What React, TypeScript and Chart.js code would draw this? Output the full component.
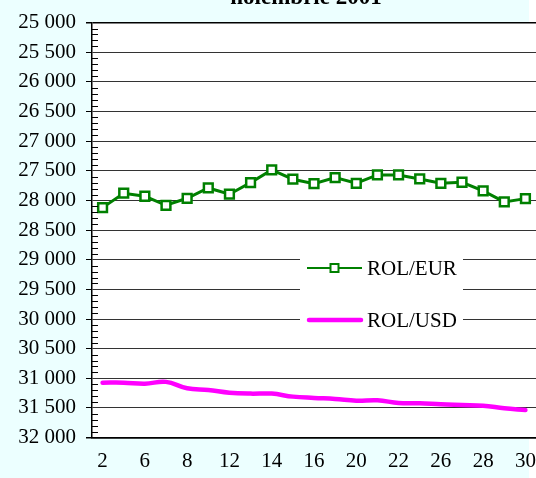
import { useEffect, useRef } from 'react';
import { Chart, registerables } from 'chart.js';

Chart.register(...registerables);

const titleText = 'noiembrie 2001';

const days = ['2', '5', '6', '7', '8', '9', '12', '13', '14', '15', '16', '19', '20', '21', '22', '23', '26', '27', '28', '29', '30'];

const rolEur = [28121, 27878, 27929, 28081, 27963, 27789, 27895, 27699, 27485, 27642, 27716, 27615, 27710, 27569, 27569, 27637, 27710, 27693, 27840, 28025, 27969];

const rolUsd = [31073, 31073, 31090, 31060, 31168, 31196, 31242, 31258, 31258, 31309, 31331, 31348, 31377, 31370, 31416, 31422, 31439, 31450, 31461, 31505, 31534];

const yMin = 25000;
const yMax = 32000;
const yStep = 500;
const yMinorStep = 100;

const fmt = (v: number) => String(v).replace(/\B(?=(\d{3})+(?!\d))/g, ' ');

const FONT = "'Liberation Serif', 'Times New Roman', serif";

const bgPlugin = {
  id: 'bg',
  beforeDraw(chart: any) {
    const { ctx, width, height, chartArea } = chart;
    ctx.save();
    ctx.fillStyle = '#ffffff';
    ctx.fillRect(0, 0, width, height);
    ctx.fillStyle = 'rgb(236,255,255)';
    ctx.fillRect(0, 0, 529, height);
    ctx.fillStyle = '#ffffff';
    ctx.fillRect(chartArea.left, chartArea.top, chartArea.right - chartArea.left, chartArea.bottom - chartArea.top);
    ctx.restore();
  },
};

const titlePlugin = {
  id: 'cutTitle',
  afterDraw(chart: any) {
    const { ctx } = chart;
    ctx.save();
    ctx.fillStyle = '#000';
    ctx.font = `bold 23px ${FONT}`;
    ctx.textAlign = 'center';
    ctx.textBaseline = 'alphabetic';
    ctx.fillText(titleText, 306, 4);
    ctx.restore();
  },
};

const minorTickPlugin = {
  id: 'minorTicks',
  afterDraw(chart: any) {
    const { ctx, chartArea } = chart;
    const ys = chart.scales.y;
    ctx.save();
    ctx.strokeStyle = '#000';
    ctx.lineWidth = 1;
    ctx.beginPath();
    for (let v = yMin; v <= yMax; v += yMinorStep) {
      if (v % yStep === 0) continue;
      const y = Math.round(ys.getPixelForValue(v)) + 0.5;
      ctx.moveTo(chartArea.left, y);
      ctx.lineTo(chartArea.left + 6, y);
    }
    ctx.stroke();
    ctx.restore();
  },
};

const legendPlugin = {
  id: 'floatLegend',
  afterDraw(chart: any) {
    const { ctx } = chart;
    ctx.save();
    ctx.fillStyle = '#ffffff';
    ctx.fillRect(300, 238, 163, 104);
    const rows = [268, 320];
    chart.data.datasets.forEach((ds: any, i: number) => {
      const y = rows[i];
      const hasMarker = ds.pointRadius > 0;
      ctx.strokeStyle = ds.borderColor;
      ctx.lineWidth = hasMarker ? 2 : 4.5;
      ctx.lineCap = hasMarker ? 'butt' : 'round';
      ctx.beginPath();
      ctx.moveTo(hasMarker ? 307 : 309, y);
      ctx.lineTo(hasMarker ? 362 : 361, y);
      ctx.stroke();
      if (hasMarker) {
        ctx.fillStyle = ds.pointBackgroundColor;
        ctx.lineWidth = 2;
        ctx.fillRect(330.5, y - 4, 8, 8);
        ctx.strokeRect(330.5, y - 4, 8, 8);
      }
      ctx.fillStyle = '#000';
      ctx.font = `21px ${FONT}`;
      ctx.textAlign = 'left';
      ctx.textBaseline = 'middle';
      ctx.fillText(ds.label, 367, y + 1);
    });
    ctx.restore();
  },
};

export default function App() {
  const ref = useRef<HTMLCanvasElement>(null);

  useEffect(() => {
    if (!ref.current) return;
    Chart.defaults.font.family = FONT;
    const chart = new Chart(ref.current, {
      type: 'line',
      data: {
        labels: days,
        datasets: [
          {
            label: 'ROL/EUR',
            data: rolEur,
            borderColor: 'rgb(0,128,0)',
            borderWidth: 3,
            pointStyle: 'rect',
            pointRadius: 6.2,
            pointBorderWidth: 2.5,
            pointBorderColor: 'rgb(0,128,0)',
            pointBackgroundColor: '#ffffff',
            tension: 0,
          },
          {
            label: 'ROL/USD',
            data: rolUsd,
            borderColor: 'rgb(255,0,255)',
            borderWidth: 4.5,
            pointRadius: 0,
            tension: 0.4,
            borderCapStyle: 'round',
          },
        ],
      },
      options: {
        animation: false,
        responsive: true,
        maintainAspectRatio: false,
        layout: { autoPadding: false, padding: { top: 22.5, bottom: 4, left: 0, right: 0 } },
        plugins: {
          legend: { display: false },
          title: { display: false },
          tooltip: { enabled: false },
        },
        scales: {
          x: {
            offset: true,
            afterFit: (s: any) => {
              s.height = 36.4;
              s.paddingLeft = 0;
              s.paddingRight = 0;
            },
            grid: { display: false, drawTicks: false },
            border: { display: true, color: '#000', width: 1.5 },
            ticks: {
              autoSkip: false,
              maxRotation: 0,
              minRotation: 0,
              padding: 11,
              color: '#000',
              font: { size: 21 },
              callback: (_v: any, i: number) => (i % 2 === 0 ? days[i] : ''),
            },
          },
          y: {
            type: 'linear',
            reverse: true,
            min: yMin,
            max: yMax,
            afterFit: (s: any) => {
              s.width = 92;
            },
            ticks: {
              stepSize: yStep,
              padding: 10,
              color: '#000',
              font: { size: 21 },
              callback: (v: any) => fmt(Number(v)),
            },
            grid: {
              color: (c: any) => (c.tick && (c.tick.value === yMin || c.tick.value === yMax) ? '#000' : '#333'),
              lineWidth: (c: any) => (c.tick && (c.tick.value === yMin || c.tick.value === yMax) ? 1.5 : 1),
              tickLength: 6,
              tickColor: '#000',
              drawTicks: true,
            },
            border: { display: true, color: '#000', width: 1.5 },
          },
        },
      },
      plugins: [bgPlugin, minorTickPlugin, legendPlugin, titlePlugin],
    });
    return () => chart.destroy();
  }, []);

  return (
    <div style={{ position: 'fixed', left: 0, top: 0, width: 536, height: 478 }}>
      <canvas ref={ref} style={{ display: 'block' }} />
    </div>
  );
}
